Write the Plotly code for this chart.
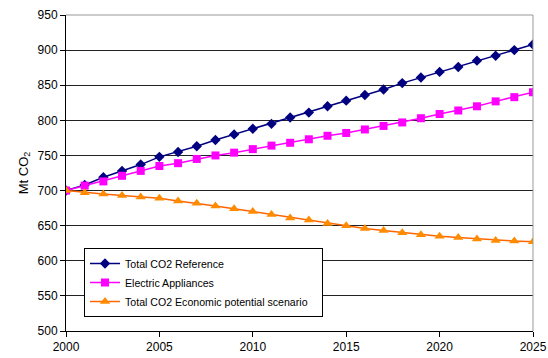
import plotly.graph_objects as go

years = list(range(2000, 2026))
reference = [700, 708, 719, 728, 737, 748, 755, 763, 772, 780, 788, 795, 804,
             811, 820, 828, 836, 844, 853, 861, 869, 876, 885, 892, 900, 908]
appliances = [700, 707, 713, 721, 728, 735, 739, 745, 750, 754, 759, 764, 768,
              773, 778, 782, 787, 792, 797, 803, 809, 814, 820, 827, 833, 840]
economic = [700, 697, 695, 693, 691, 689, 685, 682, 678, 674, 670, 666, 661,
            658, 653, 650, 646, 643, 640, 637, 635, 633, 631, 629, 628, 627]
names = ["Total CO2 Reference", "Electric Appliances",
         "Total CO2 Economic potential scenario\u00a0\u00a0\u00a0"]
x_ticks = [2000, 2005, 2010, 2015, 2020, 2025]
y_ticks = list(range(500, 951, 50))

W, H = 548, 358
ml, mr, mt, mb = 66, 15, 15, 27

fig = go.Figure()
fig.add_trace(go.Scatter(x=years, y=reference, name=names[0], mode="lines+markers",
                         line=dict(color="#000080", width=1.5),
                         marker=dict(symbol="diamond", size=8, color="#000080")))
fig.add_trace(go.Scatter(x=years, y=appliances, name=names[1], mode="lines+markers",
                         line=dict(color="#FF00FF", width=1.5),
                         marker=dict(symbol="square", size=8, color="#FF00FF")))
fig.add_trace(go.Scatter(x=years, y=economic, name=names[2], mode="lines+markers",
                         line=dict(color="#FF6600", width=1.5),
                         marker=dict(symbol="triangle-up", size=9, color="#FF8C00")))

pw = W - ml - mr
ph = H - mt - mb
def px2x(p):
    return (p - ml) / pw
def py2y(p):
    return 1 - (p - mt) / ph

# legend shadow
fig.add_shape(type="rect", xref="paper", yref="paper",
              x0=px2x(87), x1=px2x(323), y0=py2y(314), y1=py2y(251),
              fillcolor="black", line=dict(width=0), layer="above")

fig.update_layout(
    width=W, height=H,
    margin=dict(l=ml, r=mr, t=mt, b=mb),
    paper_bgcolor="white", plot_bgcolor="white",
    font=dict(family="Liberation Sans, Arial, sans-serif", size=12, color="black"),
    showlegend=True,
    legend=dict(x=px2x(84), y=py2y(248), xanchor="left", yanchor="top",
                bgcolor="white", bordercolor="black", borderwidth=1,
                font=dict(size=10.6), tracegroupgap=0, itemwidth=30),
    xaxis=dict(range=[2000, 2025], tickvals=x_ticks, showgrid=False,
               showline=True, linecolor="black", linewidth=1,
               ticks="outside", ticklen=5, tickcolor="black",
               mirror=False, zeroline=False, tickfont=dict(size=12),
               automargin=False),
    yaxis=dict(range=[500, 950], tickvals=y_ticks, showgrid=True,
               gridcolor="#222222", gridwidth=1,
               showline=True, linecolor="black", linewidth=1,
               ticks="outside", ticklen=5, tickcolor="black",
               zeroline=False, tickfont=dict(size=12), automargin=False,
               title=dict(text="Mt CO<sub>2</sub>", font=dict(size=13), standoff=6)),
)
# top and right grey border
fig.add_shape(type="line", xref="paper", yref="paper", x0=0, x1=1, y0=1, y1=1,
              line=dict(color="#999999", width=1))
fig.add_shape(type="line", xref="paper", yref="paper", x0=1, x1=1, y0=0, y1=1,
              line=dict(color="#999999", width=1))

fig.write_html("out.html")
